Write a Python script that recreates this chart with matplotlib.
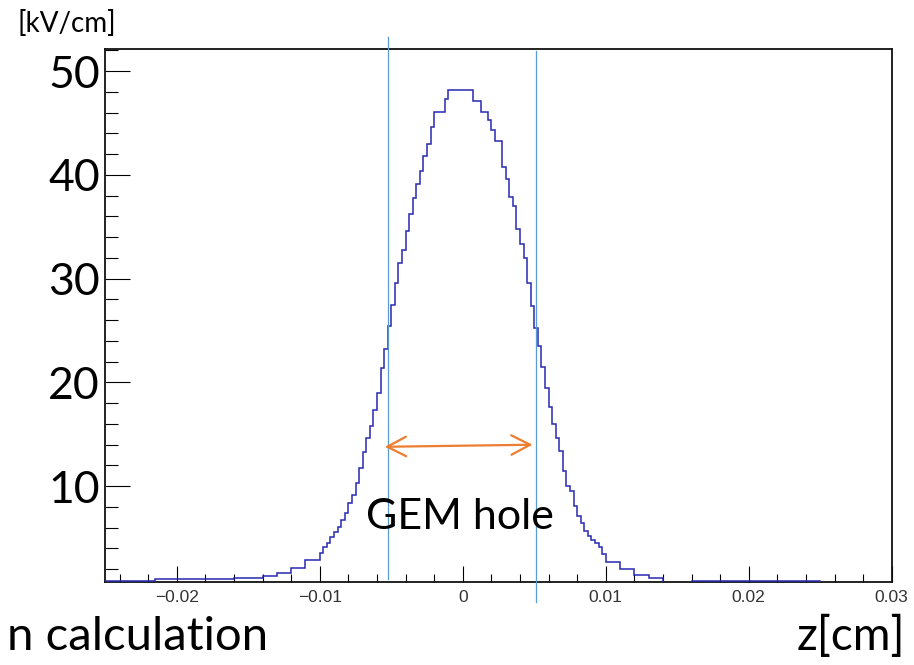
import matplotlib
matplotlib.use('Agg')
import matplotlib.pyplot as plt
from matplotlib.ticker import MultipleLocator
from matplotlib.patches import FancyArrowPatch
import numpy as np

# ---------------- data ----------------
# left tail: irregular flat steps
left_tail_edges = [-0.025, -0.0215, -0.016, -0.014, -0.013, -0.012, -0.011, -0.010]
left_tail_values = [0.83, 1.03, 1.19, 1.35, 1.67, 2.15, 2.88]

# core: bins of 0.00025 cm from -0.010 to 0.010  [kV/cm]
core_values = [3.6, 4.1, 4.5, 5.1, 5.6, 6.1, 6.7, 7.4, 8.4, 9.2,
               10.3, 11.8, 13.3, 14.6, 15.8, 17.3, 19.0, 21.4, 23.2, 25.4,
               27.5, 29.6, 31.5, 32.8, 34.6, 36.2, 37.8, 39.1, 40.4, 41.8,
               43.0, 44.6, 46.1, 46.1, 46.1, 47.35,
               48.14, 48.14, 48.14, 48.14, 48.14, 48.14, 48.14,
               47.1, 47.1, 46.1, 46.1, 45.3, 44.3, 43.27, 43.27, 40.8, 39.6,
               37.9, 37.0, 34.8, 33.3, 32.0, 29.6, 27.4, 25.2, 23.5, 21.5,
               19.5, 17.6, 16.0, 14.6, 13.4, 11.5, 10.0, 9.5, 8.1, 7.1,
               6.5, 5.7, 5.2, 4.8, 4.5, 4.1, 3.5]

# right tail
right_tail_edges = [0.010, 0.011, 0.012, 0.013, 0.014, 0.016, 0.025]
right_tail_values = [2.69, 1.99, 1.46, 1.15, 0.5, 0.83]

hole_edges = [-0.0052, 0.0051]   # GEM hole boundaries [cm]
arrow_z = [-0.00545, 0.00488]
arrow_E = [13.8, 14.0]

x_major = [-0.02, -0.01, 0, 0.01, 0.02, 0.03]
x_labels = ['\u22120.02', '\u22120.01', '0', '0.01', '0.02', '0.03']
y_major = [10, 20, 30, 40, 50]
y_labels = ['10', '20', '30', '40', '50']

# ---------------- build histogram ----------------
core_edges = np.round(np.linspace(-0.010, 0.010, len(core_values) + 1), 7)
edges = list(left_tail_edges[:-1]) + list(core_edges) + list(right_tail_edges[1:])
values = list(left_tail_values) + list(core_values) + list(right_tail_values)

W, H = 914, 665
fig = plt.figure(figsize=(W / 100, H / 100), dpi=100)
L, R, T, B = 105.3, 891.7, 49.3, 581.7
ax = fig.add_axes([L / W, 1 - B / H, (R - L) / W, (B - T) / H])

ax.stairs(values, edges, color='#2828b4', lw=1.1, zorder=3)

ax.set_xlim(-0.025, 0.030)
ax.set_ylim(0.8, 52.1)

for s in ax.spines.values():
    s.set_linewidth(1.3)
    s.set_color('#111111')

ax.set_xticks(x_major)
ax.set_xticklabels(x_labels, fontfamily='Liberation Sans', fontsize=12.5, color='#333333')
ax.xaxis.set_minor_locator(MultipleLocator(0.002))
ax.set_yticks(y_major)
ax.set_yticklabels(y_labels, fontfamily='Lato', fontsize=32)
ax.yaxis.set_minor_locator(MultipleLocator(2))

ax.tick_params(axis='x', which='major', direction='in', length=11.3, width=0.8, pad=6)
ax.tick_params(axis='x', which='minor', direction='in', length=5.8, width=0.8)
ax.tick_params(axis='y', which='major', direction='in', length=17.8, width=0.8, pad=4)
ax.tick_params(axis='y', which='minor', direction='in', length=9.6, width=0.8)

# GEM hole boundaries (overlay lines)
ax.plot([hole_edges[0], hole_edges[0]], [1.03, 53.27], color='#5b9bd5', lw=0.9,
        clip_on=False, zorder=4)
ax.plot([hole_edges[1], hole_edges[1]], [-1.2, 51.9], color='#5b9bd5', lw=0.9,
        clip_on=False, zorder=4)

arr = FancyArrowPatch((arrow_z[0], arrow_E[0]), (arrow_z[1], arrow_E[1]),
                      arrowstyle='<->,head_length=13.5,head_width=7',
                      mutation_scale=1, color='#ed7d31', lw=1.6,
                      shrinkA=0, shrinkB=0, zorder=5)
ax.add_patch(arr)

ax.text(-0.0002, 5.84, 'GEM hole', fontfamily='Lato', fontsize=31,
        ha='center', va='baseline', zorder=6)

fig.text(18 / W, 1 - 32 / H, '[kV/cm]', fontfamily='Lato', fontsize=20,
         ha='left', va='baseline')
fig.text(905 / W, 1 - 650 / H, 'z[cm]', fontfamily='Lato', fontsize=33,
         ha='right', va='baseline')
fig.text(268 / W, 1 - 650 / H, 'n calculation', fontfamily='Lato', fontsize=34,
         ha='right', va='baseline')

fig.savefig('out.png', dpi=100)
